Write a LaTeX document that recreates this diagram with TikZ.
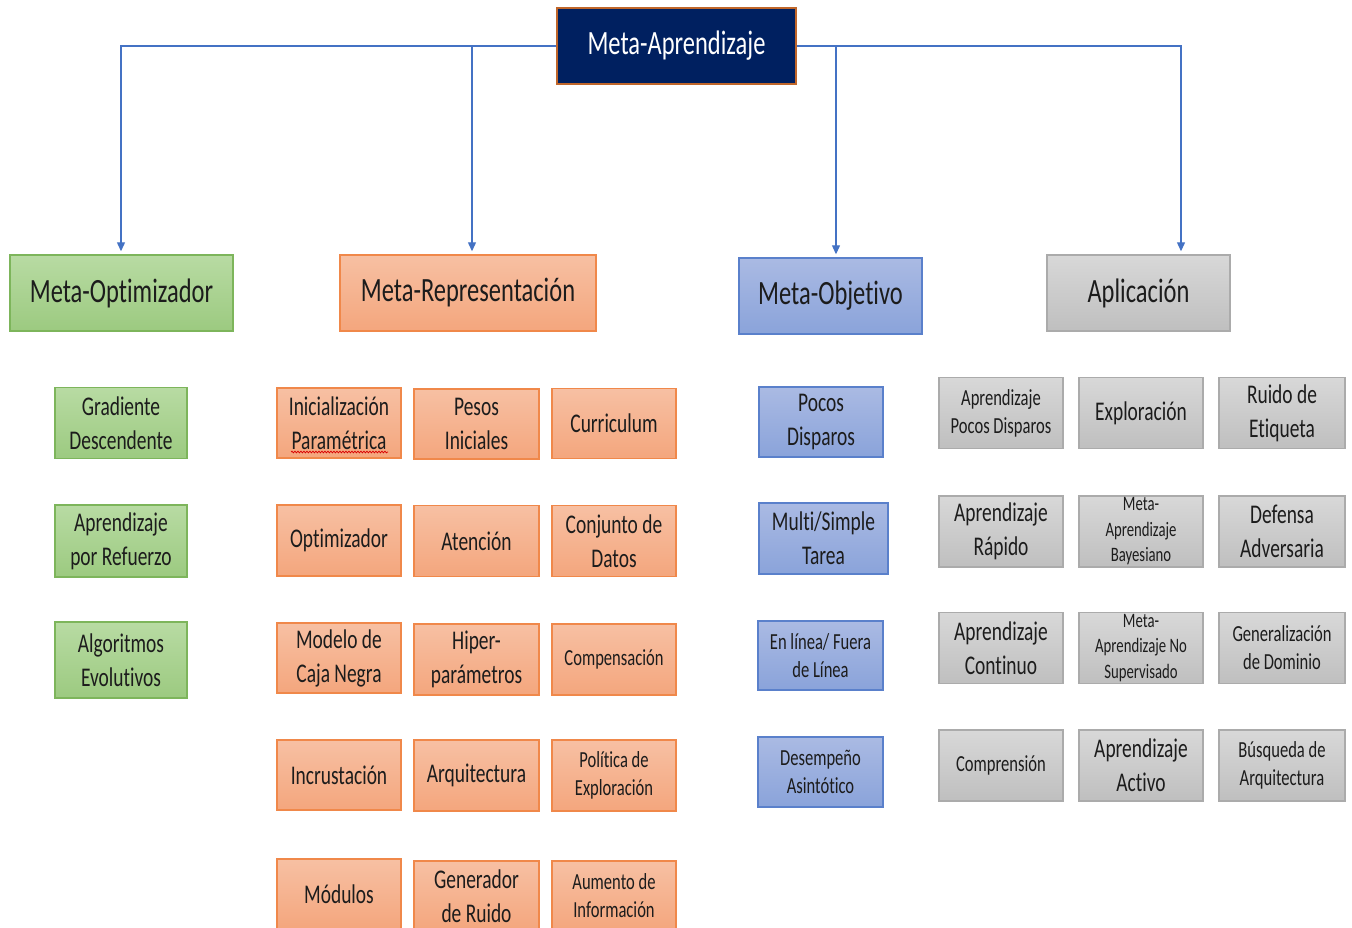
\documentclass[tikz,border=0pt]{standalone}
\usepackage{fontspec}
\setmainfont{Carlito}[FakeStretch=0.72, Ligatures=NoCommon]
\usetikzlibrary{arrows.meta,decorations.pathmorphing}

\definecolor{navy}{HTML}{002060}
\definecolor{navyedge}{HTML}{C0662A}
\definecolor{linkblue}{HTML}{4472C4}
\definecolor{txt}{HTML}{1C1C1C}
\definecolor{grnT}{HTML}{B8DBA3}
\definecolor{grnB}{HTML}{9CCA80}
\definecolor{grnD}{HTML}{7DB55B}
\definecolor{orgT}{HTML}{F7C0A3}
\definecolor{orgB}{HTML}{F4A67D}
\definecolor{orgD}{HTML}{F0884A}
\definecolor{bluT}{HTML}{AABAE3}
\definecolor{bluB}{HTML}{8AA3DA}
\definecolor{bluD}{HTML}{5A80CB}
\definecolor{gryT}{HTML}{D8D8D8}
\definecolor{gryB}{HTML}{BFBFBF}
\definecolor{gryD}{HTML}{ABABAB}

\tikzset{
  box/.style={draw, line width=1.4pt, inner sep=0pt, align=center, text=txt,
    font=\fontsize{27}{34}\selectfont},
  head/.style={minimum height=76pt, font=\fontsize{34}{40}\selectfont},
  small/.style={font=\fontsize{23}{28}\selectfont},
  tiny/.style={font=\fontsize{20.5}{25.5}\selectfont},
  gbox/.style={box, draw=grnD, top color=grnT, bottom color=grnB},
  obox/.style={box, draw=orgD, top color=orgT, bottom color=orgB},
  bbox/.style={box, draw=bluD, top color=bluT, bottom color=bluB},
  ybox/.style={box, draw=gryD, top color=gryT, bottom color=gryB},
  link/.style={draw=linkblue, line width=1.2pt,
    -{Triangle[length=9pt,width=8pt]}},
}

\begin{document}
\begin{tikzpicture}[x=1pt,y=-1pt]
\clip (0,0) rectangle (1352,928);
\useasboundingbox (0,0) rectangle (1352,928);

% root
\node[box, fill=navy, draw=navyedge, text=white, minimum width=239pt,
  minimum height=76pt, font=\fontsize{34}{40}\selectfont]
  (root) at (676.5,46) {Meta-Aprendizaje};

% second level
\node[gbox, head, minimum width=223pt] (opt) at (121.5,293) {Meta-Optimizador};
\node[obox, head, minimum width=256pt] (rep) at (468,293) {Meta-Representación};
\node[bbox, head, minimum width=183pt] (obj) at (830.5,296) {Meta-Objetivo};
\node[ybox, head, minimum width=183pt] (app) at (1138.5,293) {Aplicación};

% connectors
\draw[link] (root.west) -| ([xshift=-0.5pt,yshift=3pt]opt.north);
\draw[link] (root.west) -| ([xshift=4pt,yshift=3pt]rep.north);
\draw[link] (root.east) -| ([xshift=5.5pt,yshift=3pt]obj.north);
\draw[link] (root.east) -| ([xshift=42.5pt,yshift=3pt]app.north);

% Meta-Optimizador
\node[gbox, minimum width=132pt, minimum height=71pt] (g1) at (121,423) {Gradiente\\Descendente};
\node[gbox, minimum width=132pt, minimum height=72pt] (g2) at (121,541) {Aprendizaje\\por Refuerzo};
\node[gbox, minimum width=132pt, minimum height=76pt] (g3) at (121,660) {Algoritmos\\Evolutivos};

% Meta-Representacion
\tikzset{oa/.style={obox, minimum width=124pt, minimum height=70pt},
         ob/.style={obox, minimum width=125pt, minimum height=70pt}}
\node[oa] (o11) at (339,423) {Inicialización\\Paramétrica};
\node[ob] (o12) at (476.5,424) {Pesos\\Iniciales};
\node[oa] (o13) at (614,423.5) {Curriculum};
\node[oa, minimum height=71pt] (o21) at (339,540.5) {Optimizador};
\node[ob, minimum height=71pt] (o22) at (476.5,541) {Atención};
\node[oa, minimum height=71pt] (o23) at (614,541) {Conjunto de\\Datos};
\node[oa] (o31) at (339,658) {Modelo de\\Caja Negra};
\node[ob, minimum height=71pt] (o32) at (476.5,659.5) {Hiper-\\parámetros};
\node[oa, minimum height=71pt, small] (o33) at (614,659.5) {Compensación};
\node[oa] (o41) at (339,775) {Incrustación};
\node[ob, minimum height=71pt] (o42) at (476.5,775.5) {Arquitectura};
\node[oa, minimum height=71pt, small] (o43) at (614,775.5) {Política de\\Exploración};
\node[oa] (o51) at (339,894) {Módulos};
\node[ob] (o52) at (476.5,896) {Generador\\de Ruido};
\node[oa, small] (o53) at (614,896) {Aumento de\\Información};
% spell-check wave under the second line of the first box
\draw[red!85!black, line width=0.7pt, decorate,
  decoration={snake, segment length=3pt, amplitude=0.9pt}]
  ([xshift=-48pt,yshift=-29pt]o11.center) -- ([xshift=49pt,yshift=-29pt]o11.center);

% Meta-Objetivo
\node[bbox, minimum width=124pt, minimum height=70pt] (b1) at (821,422) {Pocos\\Disparos};
\node[bbox, minimum width=129pt, minimum height=71pt] (b2) at (823.5,538.5) {Multi/Simple\\Tarea};
\node[bbox, minimum width=125pt, minimum height=69pt, small] (b3) at (820.5,655.5) {En línea/ Fuera\\de Línea};
\node[bbox, minimum width=125pt, minimum height=70pt, small] (b4) at (820.5,772) {Desempeño\\Asintótico};

% Aplicacion
\tikzset{ya/.style={ybox, minimum width=124pt, minimum height=71pt},
         yc/.style={ybox, minimum width=126pt, minimum height=71pt}}
\node[ya, small] (a11) at (1001,413) {Aprendizaje\\Pocos Disparos};
\node[ya] (a12) at (1141,413) {Exploración};
\node[yc] (a13) at (1282,413) {Ruido de\\Etiqueta};
\node[ya] (a21) at (1001,531.5) {Aprendizaje\\Rápido};
\node[ya, tiny] (a22) at (1141,531.5) {Meta-\\Aprendizaje\\Bayesiano};
\node[yc] (a23) at (1282,531.5) {Defensa\\Adversaria};
\node[ya] (a31) at (1001,648) {Aprendizaje\\Continuo};
\node[ya, tiny] (a32) at (1141,648) {Meta-\\Aprendizaje No\\Supervisado};
\node[yc, small] (a33) at (1282,648) {Generalización\\de Dominio};
\node[ya, small] (a41) at (1001,765.5) {Comprensión};
\node[ya] (a42) at (1141,765.5) {Aprendizaje\\Activo};
\node[yc, small] (a43) at (1282,765.5) {Búsqueda de\\Arquitectura};
\end{tikzpicture}
\end{document}
